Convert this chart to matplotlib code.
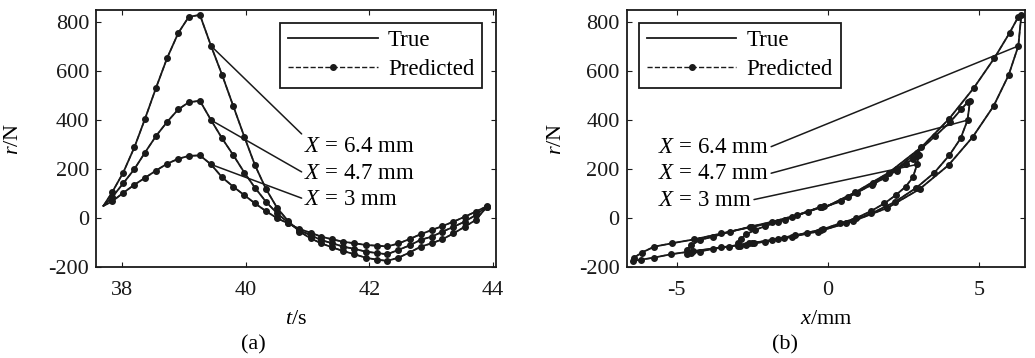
import numpy as np
import matplotlib
matplotlib.use('Agg')
import matplotlib.pyplot as plt

plt.rcParams['font.family'] = ['Liberation Serif', 'DejaVu Serif']
plt.rcParams['mathtext.fontset'] = 'custom'
plt.rcParams['mathtext.rm'] = 'Liberation Serif'
plt.rcParams['mathtext.it'] = 'Liberation Serif:italic'

# waktu sampel (s)
t = [37.70, 37.84, 38.02, 38.20, 38.37, 38.55, 38.73, 38.91, 39.08, 39.26,
     39.44, 39.62, 39.80, 39.98, 40.15, 40.33, 40.51, 40.69, 40.87, 41.05,
     41.22, 41.40, 41.58, 41.76, 41.94, 42.12, 42.29, 42.47, 42.65, 42.83,
     43.01, 43.18, 43.36, 43.54, 43.72, 43.90]

# gaya restoring r (N) untuk tiap amplitudo
r_64 = [50, 105, 186, 289, 404, 532, 654, 756, 822, 830,
        703, 584, 457, 331, 216, 118, 41, -13, -55, -83,
        -103, -120, -135, -148, -162, -170, -175, -162, -141, -117,
        -103, -87, -63, -36, -8, 45]
r_47 = [50, 85, 142, 200, 267, 335, 393, 444, 473, 479,
        400, 325, 257, 185, 124, 66, 19, -19, -50, -70,
        -90, -103, -117, -126, -137, -143, -148, -130, -112, -89,
        -76, -56, -36, -15, 12, 47]
r_30 = [50, 68, 103, 136, 164, 194, 222, 242, 254, 256,
        219, 166, 128, 93, 60, 28, -1, -22, -45, -60,
        -76, -87, -97, -103, -110, -113, -116, -104, -86, -66,
        -49, -33, -15, 5, 26, 48]

# perpindahan x (mm)
x_64 = [0, 0.90, 2.02, 3.09, 4.00, 4.83, 5.51, 6.01, 6.30, 6.40,
        6.30, 5.98, 5.48, 4.79, 3.99, 3.03, 1.96, 0.83, -0.32, -1.47,
        -2.52, -3.54, -4.45, -5.20, -5.77, -6.18, -6.45, -6.42, -6.16, -5.75,
        -5.16, -4.42, -3.53, -2.51, -1.41, -0.26]
x_47 = [0, 0.66, 1.49, 2.27, 2.94, 3.55, 4.05, 4.41, 4.62, 4.70,
        4.62, 4.39, 4.02, 3.52, 2.93, 2.22, 1.44, 0.61, -0.24, -1.08,
        -1.85, -2.60, -3.27, -3.82, -4.24, -4.54, -4.68, -4.68, -4.53, -4.23,
        -3.79, -3.24, -2.59, -1.84, -1.03, -0.19]
x_30 = [0, 0.42, 0.95, 1.45, 1.88, 2.27, 2.58, 2.82, 2.95, 3.00,
        2.95, 2.81, 2.57, 2.24, 1.87, 1.42, 0.92, 0.39, -0.15, -0.69,
        -1.18, -1.66, -2.09, -2.44, -2.71, -2.90, -2.99, -2.99, -2.89, -2.70,
        -2.42, -2.07, -1.65, -1.18, -0.66, -0.12]

# hasil prediksi praktis berimpit dengan nilai sebenarnya
r_series = [r_64, r_47, r_30]
x_series = [x_64, x_47, x_30]
labels = ['$X$ = 6.4 mm', '$X$ = 4.7 mm', '$X$ = 3 mm']
idx_ann = 10  # titik yang ditunjuk garis label

warna = '#1a1a1a'
fs = 16
fs_besar = 16.5

fig = plt.figure(figsize=(10.35, 3.58), dpi=100)
ax_a = fig.add_axes([0.0928, 0.2542, 0.3865, 0.7179])
ax_b = fig.add_axes([0.6055, 0.2542, 0.3848, 0.7179])

def gambar(ax, xs_list):
    for xs, rs in zip(xs_list, r_series):
        ax.plot(xs, rs, '-', color=warna, lw=1.3)
        ax.plot(xs, rs, '--', color=warna, lw=1.0, marker='o', ms=4,
                markevery=slice(1, None))

# (a) riwayat waktu
gambar(ax_a, [t, t, t])
# (b) loop histeresis
gambar(ax_b, x_series)

# legenda
for ax, loc, anchor in [(ax_a, 'upper right', (0.965, 0.951)),
                        (ax_b, 'upper left', (0.031, 0.951))]:
    ht, = ax.plot([], [], '-', color=warna, lw=1.3)
    hp, = ax.plot([], [], '--', color=warna, lw=1.0, marker='o', ms=4)
    leg = ax.legend([ht, hp], ['True', 'Predicted'], loc=loc,
                    bbox_to_anchor=anchor, fontsize=fs_besar, frameon=True,
                    fancybox=False, edgecolor=warna, framealpha=1,
                    handlelength=3.9, handletextpad=0.45, borderpad=0.34,
                    labelspacing=0.34, borderaxespad=0, numpoints=1)
    leg.get_frame().set_linewidth(1.3)

# label garis (a)
teks_a = [(40.95, 294, (0, 0.95)), (40.95, 182, (0, 0.5)), (40.95, 77, (0, 0.5))]
for lab, rs, (xt, yt, rp) in zip(labels, r_series, teks_a):
    ax_a.annotate(lab, xy=(t[idx_ann], rs[idx_ann]), xytext=(xt, yt),
                  ha='left', va='center', fontsize=fs_besar,
                  arrowprops=dict(arrowstyle='-', color=warna, lw=1.1,
                                  shrinkA=0, shrinkB=0, relpos=rp))

# label garis (b)
teks_b = [(-5.63, 287), (-5.63, 180), (-5.63, 73)]
for lab, xs, rs, (xt, yt) in zip(labels, x_series, r_series, teks_b):
    ax_b.annotate(lab, xy=(xs[idx_ann], rs[idx_ann]), xytext=(xt, yt),
                  ha='left', va='center', fontsize=fs_besar,
                  arrowprops=dict(arrowstyle='-', color=warna, lw=1.1,
                                  shrinkA=0, shrinkB=0, relpos=(1, 0.5)))

ax_a.set_xlim(37.58, 44.05)
ax_a.set_xticks([38, 40, 42, 44])
ax_b.set_xlim(-6.66, 6.52)
ax_b.set_xticks([-5, 0, 5])
ax_b.set_xticklabels(['-5', '0', '5'])
for ax in [ax_a, ax_b]:
    ax.set_ylim(-200, 850)
    ax.set_yticks([-200, 0, 200, 400, 600, 800])
    ax.set_yticklabels(['-200', '0', '200', '400', '600', '800'])
    ax.tick_params(direction='in', top=True, right=True, length=3.5,
                   width=0.8, labelsize=fs, colors=warna)
    ax.tick_params(axis='x', pad=10)
    ax.tick_params(axis='y', pad=5)
    for s in ax.spines.values():
        s.set_linewidth(1.3)
        s.set_color(warna)

ax_a.set_ylabel('$r$/N', fontsize=fs, labelpad=18)
ax_b.set_ylabel('$r$/N', fontsize=fs, labelpad=9)
ax_a.set_xlabel('$t$/s', fontsize=fs, labelpad=7)
ax_b.set_xlabel('$x$/mm', fontsize=fs, labelpad=7)

fig.text(253 / 1035, 0.036, '(a)', ha='center', va='center', fontsize=fs)
fig.text(785 / 1035, 0.036, '(b)', ha='center', va='center', fontsize=fs)

fig.savefig('out.png', dpi=100)
